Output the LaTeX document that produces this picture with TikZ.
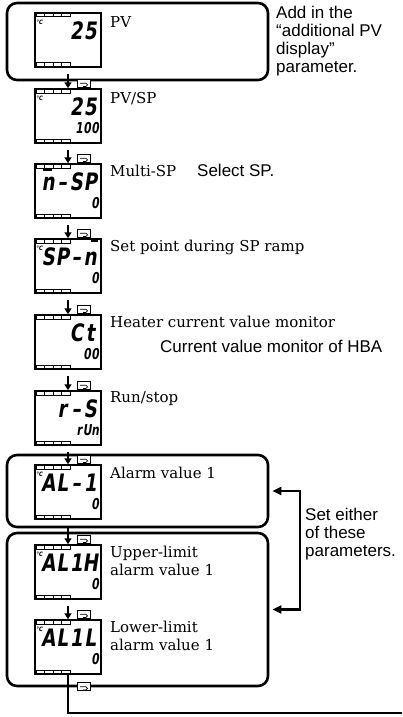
\documentclass[tikz,border=0pt]{standalone}
\usepackage{fontspec}
\usepackage{graphicx}
\setmainfont{DejaVu Serif}
\setsansfont{Liberation Sans}
\newfontfamily\segfont[FakeSlant=0.18]{DejaVu Sans Condensed}
\usetikzlibrary{arrows.meta, calc}

% one display: name, centre, big digits (4 slots), small digits (3 slots), unit
\newcommand{\lcdpanel}[5]{%
  \node[lcd] (#1) at (#2) {};
  \node[degc] (#1u) at ($(#1.north west)+(5,10)$) {#5};
  \foreach \ch [count=\i] in {#3}
    \node[bigseg] (#1b\i) at ($(#1.north west)+(14*\i,27)$) {\scalebox{0.85}[1]{\ch}};
  \foreach \ch [count=\i] in {#4}
    \node[smallseg] (#1s\i) at ($(#1.north west)+(37+8*\i,45)$) {\scalebox{0.8}[1]{\ch}};
}

\begin{document}
\begin{tikzpicture}[x=1pt, y=-1pt,
  group/.style={draw, line width=2.6pt, rounded corners=10pt, minimum width=261pt, inner sep=0},
  lcd/.style={draw, line width=1.5pt, minimum width=66pt, minimum height=54pt, inner sep=0,
              path picture={
                \foreach \k in {0,1,2,3} {
                  \draw[line width=1pt, fill=white] ([shift={(1pt+8.5pt*\k,-0.5pt)}]path picture bounding box.north west) rectangle ++(8.5pt,-3.5pt);
                  \draw[line width=1pt, fill=white] ([shift={(1pt+8.5pt*\k,0.5pt)}]path picture bounding box.south west) rectangle ++(8.5pt,3.5pt);
                }}},
  bigseg/.style={anchor=base, inner sep=0, font=\segfont\bfseries\fontsize{24}{24}\selectfont},
  smallseg/.style={anchor=base, inner sep=0, font=\segfont\bfseries\fontsize{15}{15}\selectfont},
  degc/.style={inner sep=0, font=\segfont\bfseries\fontsize{6}{6}\selectfont},
  segbar/.style={line width=1.8pt},
  lbl/.style={anchor=base west, inner sep=0, align=left, font=\fontsize{15}{18}\selectfont},
  note/.style={anchor=base west, inner sep=0, align=left, font=\sffamily\fontsize{17}{17.8}\selectfont},
  keyicon/.style={draw, fill=white, line width=0.7pt, minimum width=13pt, minimum height=8pt, inner sep=0,
                  path picture={\draw[line width=0.7pt] ([xshift=-4pt]path picture bounding box.center)
                    -- ++(6pt,0) arc[start angle=90, end angle=-90, radius=1.6pt] -- ++(-3pt,0);}},
  steparrow/.style={-{Triangle[length=6pt,width=7pt]}, line width=2pt, shorten <=6pt},
  brarrow/.style={{Triangle[length=9pt,width=8pt]}-{Triangle[length=9pt,width=8pt]}, line width=2.2pt,
                  shorten <=3pt, shorten >=3pt},
  exitline/.style={line width=2.6pt}]

  \useasboundingbox (0,0) rectangle (402,717);

  % framed groups
  \node[group, minimum height=77pt] (pvbox) at (137.5,41.5) {};
  \node[group, minimum height=72pt] (albox) at (137.5,491) {};
  \node[group, minimum height=153pt] (lmbox) at (137.5,609.5) {};

  % displays
  \lcdpanel{d1}{68,40}{{},{},2,5}{}{°C}
  \lcdpanel{d2}{68,116}{{},{},2,5}{1,0,0}{°C}
  \lcdpanel{d3}{68,191}{n,–,S,P}{{},{},0}{}
  \lcdpanel{d4}{68,266}{S,P,–,n}{{},{},0}{°C}
  \lcdpanel{d5}{68,342}{{},{},C,t}{{},0,0}{}
  \lcdpanel{d6}{68,418}{{},r,–,S}{r,U,n}{}
  \lcdpanel{d7}{68,492}{A,L,–,1}{{},{},0}{°C}
  \lcdpanel{d8}{68,572}{A,L,1,H}{{},{},0}{°C}
  \lcdpanel{d9}{68,647}{A,L,1,L}{{},{},0}{°C}
  \draw[segbar] ($(d3.north west)+(9,7)$) -- ++(9,0);
  \draw[segbar] ($(d4.north west)+(57,3)$) -- ++(7,0);

  % parameter names (base = last line)
  \node[lbl] (t1) at (110,28) {PV};
  \node[lbl] (t2) at (110,103) {PV/SP};
  \node[lbl] (t3) at (110,176) {Multi-SP};
  \node[note] (t3b) at (197,176) {Select SP.};
  \node[lbl] (t4) at (110,251) {Set point during SP ramp};
  \node[lbl] (t5) at (110,327) {Heater current value monitor};
  \node[note] (t5b) at (160,352) {Current value monitor of HBA};
  \node[lbl] (t6) at (110,402) {Run/stop};
  \node[lbl] (t7) at (110,478) {Alarm value 1};
  \node[lbl] (t8) at (110,575) {Upper-limit\\alarm value 1};
  \node[lbl] (t9) at (110,650) {Lower-limit\\alarm value 1};

  % notes
  \node[note] (n1) at (276,72) {Add in the\\“additional PV\\display”\\parameter.};
  \node[note] (n2) at (305,556) {Set either\\of these\\parameters.};

  % flow
  \coordinate (exit) at (402,713);
  \draw[exitline] (d9) |- (exit);
  \draw[brarrow] (albox.east) -- ++(31,0) |- (lmbox.east);
  \foreach \a/\b in {d1/d2,d2/d3,d3/d4,d4/d5,d5/d6,d6/d7,d7/d8,d8/d9} {
    \draw[steparrow] (\a) -- (\b);
    \node[keyicon] (k\b) at ($(\b.north)+(16,-5)$) {};
  }
  \node[keyicon] (kout) at ($(d9.south)+(16,12)$) {};
\end{tikzpicture}
\end{document}
